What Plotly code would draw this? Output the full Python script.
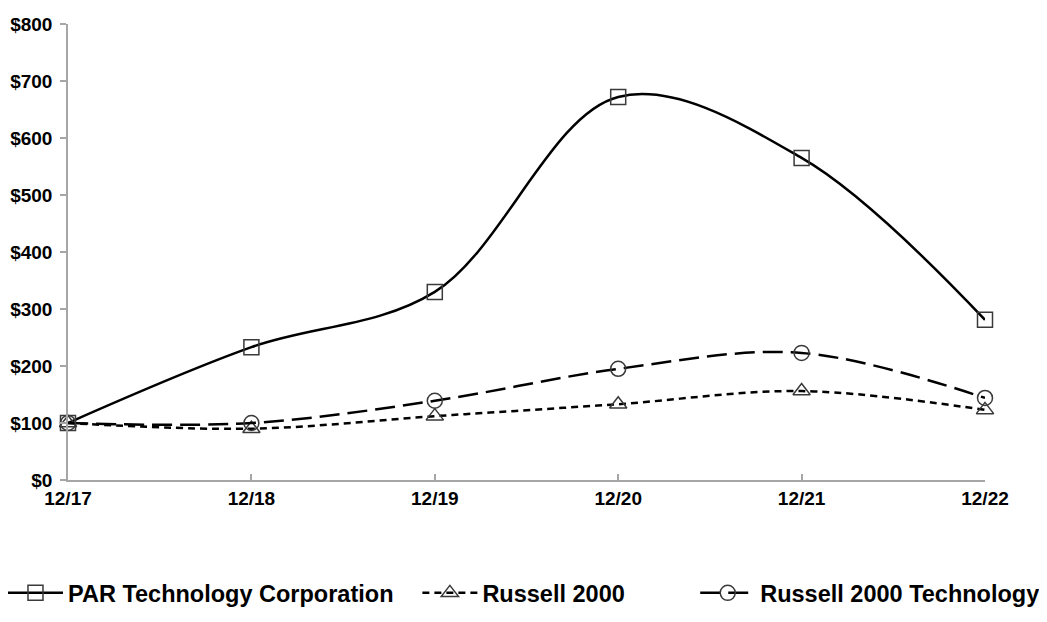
import plotly.graph_objects as go

categories = ["12/17", "12/18", "12/19", "12/20", "12/21", "12/22"]
par_values = [100, 233, 330, 672, 565, 281]
r2000_values = [100, 90, 112, 133, 156, 123]
r2000tech_values = [100, 100, 139, 195, 223, 144]
y_ticks = [0, 100, 200, 300, 400, 500, 600, 700, 800]
y_labels = ["$" + str(v) for v in y_ticks]

FONT = "Liberation Sans, Arial, sans-serif"
MARK = "#3a3a3a"

fig = go.Figure()

fig.add_trace(go.Scatter(
    x=categories, y=par_values, name="PAR Technology Corporation",
    mode="lines+markers", line=dict(color="black", width=2.5, shape="spline"),
    marker=dict(symbol="square-open", size=15, color=MARK, line=dict(width=1.5, color=MARK)),
    legend="legend", hoverinfo="skip", cliponaxis=False,
))
fig.add_trace(go.Scatter(
    x=categories, y=r2000_values, name="Russell 2000",
    mode="lines+markers", line=dict(color="black", width=2.5, shape="spline", dash="7px,5px"),
    marker=dict(symbol="triangle-up-open", size=15, color=MARK, line=dict(width=1.5, color=MARK)),
    legend="legend2", hoverinfo="skip", cliponaxis=False,
))
fig.add_trace(go.Scatter(
    x=categories, y=r2000tech_values, name="Russell 2000 Technology",
    mode="lines+markers", line=dict(color="black", width=2.5, shape="spline", dash="20px,8px"),
    marker=dict(symbol="circle-open", size=15, color=MARK, line=dict(width=1.5, color=MARK)),
    legend="legend3", hoverinfo="skip", cliponaxis=False,
))

leg_common = dict(orientation="h", yanchor="middle", y=-0.248, xanchor="left",
                  font=dict(family=FONT, size=23.5, color="black", weight="bold"),
                  itemwidth=55, bgcolor="rgba(0,0,0,0)")

fig.update_layout(
    width=1047, height=622,
    margin=dict(l=60, r=70, t=16, b=150, autoexpand=False),
    paper_bgcolor="white", plot_bgcolor="white",
    font=dict(family=FONT, color="black"),
    legend=dict(x=-0.0709, **leg_common),
    legend2=dict(x=0.381, **leg_common),
    legend3=dict(x=0.684, **leg_common),
    showlegend=True,
)

fig.update_xaxes(
    type="category", range=[0, 5], automargin=False,
    showgrid=False, zeroline=False,
    showline=True, linecolor="#a6a6a6", linewidth=1.5,
    ticks="inside", ticklen=6, tickcolor="#a6a6a6", tickwidth=1.5,
    tickfont=dict(family=FONT, size=19, color="black", weight="bold"),
)
fig.update_yaxes(
    range=[0, 800], tickvals=y_ticks, ticktext=y_labels, automargin=False,
    showgrid=False, zeroline=False,
    showline=True, linecolor="#a6a6a6", linewidth=1.5,
    ticks="outside", ticklen=6, tickcolor="#a6a6a6", tickwidth=1.5,
    ticklabelstandoff=4,
    tickfont=dict(family=FONT, size=19, color="black", weight="bold"),
)

fig.write_html("out.html")
